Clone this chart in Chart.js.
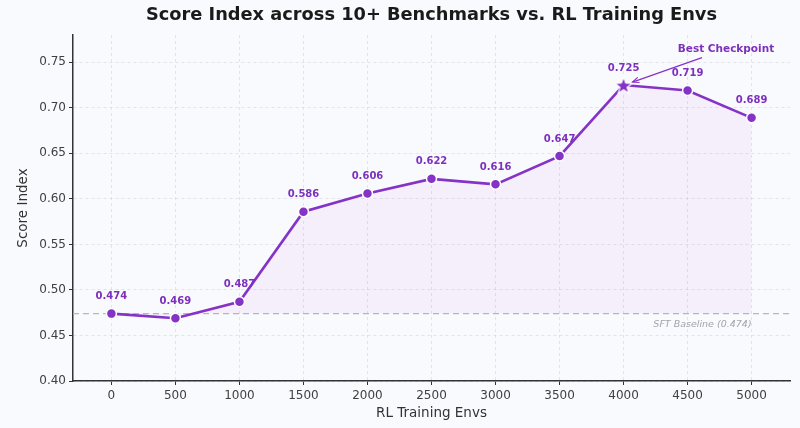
<!DOCTYPE html>
<html>
<head>
<meta charset="utf-8">
<script src="https://cdn.jsdelivr.net/npm/chart.js@4.4.0/dist/chart.umd.min.js"></script>
<style>
  html, body { margin: 0; padding: 0; background: #f9fafd; }
  #wrap { width: 800px; height: 428px; }
</style>
</head>
<body>
<div id="wrap"><canvas id="myChart"></canvas></div>
<script>
// data
var envs = [0, 500, 1000, 1500, 2000, 2500, 3000, 3500, 4000, 4500, 5000];
var scores = [0.474, 0.469, 0.487, 0.586, 0.606, 0.622, 0.616, 0.647, 0.725, 0.719, 0.689];
var baseline = 0.474;
var baselineLabel = "SFT Baseline (0.474)";
var bestIndex = 8;
var bestLabel = "Best Checkpoint";
var chartTitle = "Score Index across 10+ Benchmarks vs. RL Training Envs";

var purple = "#8533c7";
var labelPurple = "#7d2fbd";
var font = "'DejaVu Sans', sans-serif";

// filled star used as the marker of the best checkpoint
function makeStar(r) {
    var c = document.createElement("canvas");
    var s = r * 2 + 4;
    c.width = s;
    c.height = s;
    var ctx = c.getContext("2d");
    ctx.beginPath();
    for (var i = 0; i < 10; i++) {
        var rad = i % 2 === 0 ? r : r * 0.42;
        var a = -Math.PI / 2 + i * Math.PI / 5;
        var px = s / 2 + rad * Math.cos(a);
        var py = s / 2 + 1 + rad * Math.sin(a);
        if (i === 0) ctx.moveTo(px, py); else ctx.lineTo(px, py);
    }
    ctx.closePath();
    ctx.fillStyle = purple;
    ctx.strokeStyle = "#ffffff";
    ctx.lineWidth = 1.2;
    ctx.fill();
    ctx.stroke();
    return c;
}

var star = makeStar(9);
var pointStyles = envs.map(function (e, i) { return i === bestIndex ? star : "circle"; });

// title over the plot area, value labels, baseline caption, "Best Checkpoint" arrow
const overlayPlugin = {
    id: "overlay",
    afterDatasetsDraw(chart) {
        const ctx = chart.ctx;
        const xs = chart.scales.x;
        const ys = chart.scales.y;
        const area = chart.chartArea;
        ctx.save();

        ctx.font = "bold 17.8px " + font;
        ctx.fillStyle = "#1a1a1a";
        ctx.textAlign = "center";
        ctx.textBaseline = "middle";
        ctx.fillText(chartTitle, (area.left + area.right) / 2, 15);

        ctx.font = "bold 10px " + font;
        ctx.fillStyle = labelPurple;
        ctx.textAlign = "center";
        ctx.textBaseline = "middle";
        for (var i = 0; i < envs.length; i++) {
            ctx.fillText(scores[i].toFixed(3), xs.getPixelForValue(envs[i]), ys.getPixelForValue(scores[i]) - 17);
        }

        ctx.font = "italic 9.5px " + font;
        ctx.fillStyle = "#a3a3ab";
        ctx.textAlign = "right";
        ctx.textBaseline = "middle";
        ctx.fillText(baselineLabel, xs.getPixelForValue(envs[envs.length - 1]), ys.getPixelForValue(baseline) + 11);

        // annotation
        var bx = xs.getPixelForValue(envs[bestIndex]);
        var by = ys.getPixelForValue(scores[bestIndex]);
        var tx = xs.getPixelForValue(4800);
        var ty = ys.getPixelForValue(0.764);
        ctx.font = "bold 10.5px " + font;
        ctx.fillStyle = labelPurple;
        ctx.textAlign = "center";
        ctx.textBaseline = "middle";
        ctx.fillText(bestLabel, tx, ty);

        var sx = tx - 24, sy = ty + 8;
        var ex = bx + 9, ey = by - 3;
        ctx.strokeStyle = purple;
        ctx.lineWidth = 1.2;
        ctx.beginPath();
        ctx.moveTo(sx, sy);
        ctx.lineTo(ex, ey);
        ctx.stroke();
        var ang = Math.atan2(ey - sy, ex - sx);
        ctx.beginPath();
        ctx.moveTo(ex - 7 * Math.cos(ang - 0.4), ey - 7 * Math.sin(ang - 0.4));
        ctx.lineTo(ex, ey);
        ctx.lineTo(ex - 7 * Math.cos(ang + 0.4), ey - 7 * Math.sin(ang + 0.4));
        ctx.stroke();

        ctx.restore();
    }
};

const el = document.getElementById("myChart");

const config = {
    type: "line",
    data: {
        datasets: [
            {
                label: "Score Index",
                data: envs.map(function (e, i) { return { x: e, y: scores[i] }; }),
                borderColor: purple,
                borderWidth: 2.6,
                backgroundColor: "rgba(185, 120, 220, 0.08)",
                fill: { value: baseline },
                pointStyle: pointStyles,
                pointRadius: 5,
                pointBackgroundColor: purple,
                pointBorderColor: "#ffffff",
                pointBorderWidth: 1.5,
                tension: 0,
                order: 1
            },
            {
                label: "SFT Baseline",
                data: [{ x: -300, y: baseline }, { x: 5300, y: baseline }],
                borderColor: "#b9b6c4",
                borderWidth: 1.3,
                borderDash: [6, 4],
                pointRadius: 0,
                fill: false,
                order: 2
            }
        ]
    },
    options: {
        responsive: true,
        maintainAspectRatio: false,
        animation: false,
        layout: { padding: { left: 15, right: 10, top: 35, bottom: 0 } },
        plugins: {
            legend: { display: false },
            tooltip: { enabled: false },
            title: { display: false }
        },
        scales: {
            x: {
                type: "linear",
                min: -300,
                max: 5300,
                afterBuildTicks: function (scale) {
                    scale.ticks = envs.map(function (v) { return { value: v }; });
                },
                ticks: {
                    color: "#404040",
                    font: { family: font, size: 12 },
                    padding: 4,
                    maxRotation: 0,
                    autoSkip: false,
                    callback: function (v) { return String(v); }
                },
                grid: {
                    color: "rgba(205, 205, 215, 0.5)",
                    tickColor: "#333333",
                    tickLength: 4
                },
                border: { display: true, color: "#333333", width: 1.5, dash: [3, 3] },
                title: {
                    display: true,
                    text: "RL Training Envs",
                    color: "#333333",
                    font: { family: font, size: 13.5 },
                    padding: { top: 2, bottom: 6 }
                },
                afterFit: function (scale) { scale.height = 47; }
            },
            y: {
                min: 0.4,
                max: 0.78,
                afterBuildTicks: function (scale) {
                    var t = [];
                    for (var v = 0.4; v <= 0.7501; v += 0.05) t.push({ value: Math.round(v * 100) / 100 });
                    scale.ticks = t;
                },
                ticks: {
                    color: "#404040",
                    font: { family: font, size: 12 },
                    padding: 3,
                    callback: function (v) { return v.toFixed(2); }
                },
                grid: {
                    color: "rgba(205, 205, 215, 0.5)",
                    tickColor: "#333333",
                    tickLength: 4
                },
                border: { display: true, color: "#333333", width: 1.5, dash: [3, 3] },
                title: {
                    display: true,
                    text: "Score Index",
                    color: "#333333",
                    font: { family: font, size: 13.5 },
                    padding: { top: 0, bottom: 4 }
                },
                afterFit: function (scale) { scale.width = 58; }
            }
        }
    },
    plugins: [overlayPlugin]
};

new Chart(el, config);
</script>
</body>
</html>
